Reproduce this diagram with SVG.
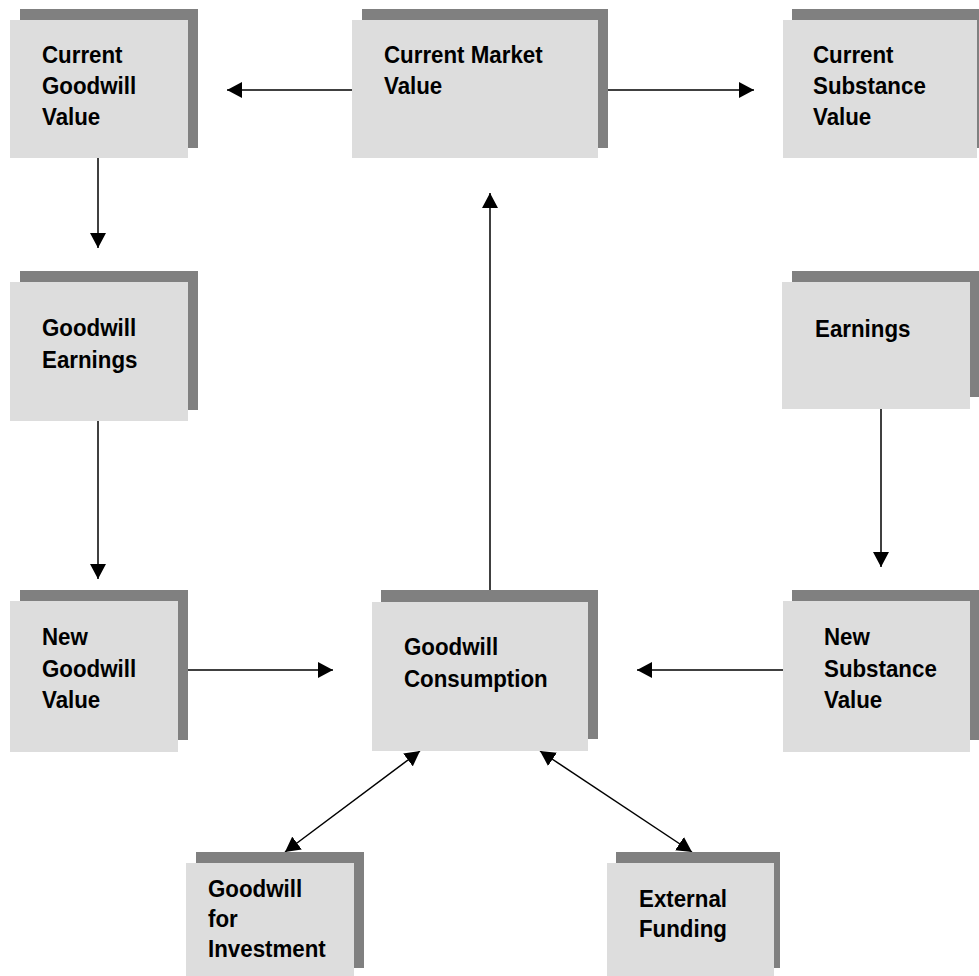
<svg xmlns="http://www.w3.org/2000/svg" width="979" height="976" viewBox="0 0 979 976">
  <style>
    .shadow { fill: #808080; }
    .face { fill: #dddddd; }
    .label { font-family: "Liberation Sans", Arial, sans-serif; font-weight: bold; font-size: 24px; fill: #000000; }
    .edge { stroke: #000000; stroke-width: 1.5; fill: none; }
  </style>
  <defs>
    <marker id="arrow" markerUnits="userSpaceOnUse" markerWidth="16" markerHeight="16" viewBox="0 0 16 16" refX="15" refY="8" orient="auto-start-reverse">
      <path d="M0,0 L15,8 L0,16 Z" fill="#000000"/>
    </marker>
  </defs>

  <rect width="979" height="976" fill="#ffffff"/>

  <!-- connectors -->
  <g id="connectors">
    <line class="edge" x1="352" y1="90" x2="227" y2="90" marker-end="url(#arrow)"/>
    <line class="edge" x1="608" y1="90" x2="754" y2="90" marker-end="url(#arrow)"/>
    <line class="edge" x1="98" y1="158" x2="98" y2="248" marker-end="url(#arrow)"/>
    <line class="edge" x1="98" y1="421" x2="98" y2="579" marker-end="url(#arrow)"/>
    <line class="edge" x1="881" y1="409" x2="881" y2="567" marker-end="url(#arrow)"/>
    <line class="edge" x1="188" y1="670" x2="333" y2="670" marker-end="url(#arrow)"/>
    <line class="edge" x1="783" y1="670" x2="637" y2="670" marker-end="url(#arrow)"/>
    <line class="edge" x1="490" y1="590" x2="490" y2="193" marker-end="url(#arrow)"/>
    <line class="edge" x1="420" y1="751" x2="285" y2="852" marker-start="url(#arrow)" marker-end="url(#arrow)"/>
    <line class="edge" x1="540" y1="751" x2="692" y2="852" marker-start="url(#arrow)" marker-end="url(#arrow)"/>
  </g>

  <!-- nodes -->
  <g id="current-goodwill-value">
    <rect class="shadow" x="20" y="9" width="178" height="139"/>
    <rect class="face" x="10" y="20" width="178" height="138"/>
    <text class="label" transform="translate(42 0) scale(0.93 1)"><tspan x="0" y="63">Current</tspan><tspan x="0" y="94">Goodwill</tspan><tspan x="0" y="125">Value</tspan></text>
  </g>

  <g id="current-market-value">
    <rect class="shadow" x="362" y="9" width="246" height="139"/>
    <rect class="face" x="352" y="20" width="246" height="138"/>
    <text class="label" transform="translate(384 0) scale(0.93 1)"><tspan x="0" y="63">Current Market</tspan><tspan x="0" y="94">Value</tspan></text>
  </g>

  <g id="current-substance-value">
    <rect class="shadow" x="792" y="9" width="195" height="139"/>
    <rect class="face" x="783" y="20" width="194" height="138"/>
    <text class="label" transform="translate(813 0) scale(0.93 1)"><tspan x="0" y="63">Current</tspan><tspan x="0" y="94">Substance</tspan><tspan x="0" y="125">Value</tspan></text>
  </g>

  <g id="goodwill-earnings">
    <rect class="shadow" x="20" y="271" width="178" height="139"/>
    <rect class="face" x="10" y="282" width="178" height="139"/>
    <text class="label" transform="translate(42 0) scale(0.93 1)"><tspan x="0" y="336">Goodwill</tspan><tspan x="0" y="368">Earnings</tspan></text>
  </g>

  <g id="earnings">
    <rect class="shadow" x="792" y="271" width="187" height="126"/>
    <rect class="face" x="782" y="282" width="188" height="127"/>
    <text class="label" transform="translate(815 0) scale(0.93 1)"><tspan x="0" y="337">Earnings</tspan></text>
  </g>

  <g id="new-goodwill-value">
    <rect class="shadow" x="20" y="590" width="168" height="150"/>
    <rect class="face" x="10" y="601" width="168" height="151"/>
    <text class="label" transform="translate(42 0) scale(0.93 1)"><tspan x="0" y="645">New</tspan><tspan x="0" y="677">Goodwill</tspan><tspan x="0" y="708">Value</tspan></text>
  </g>

  <g id="goodwill-consumption">
    <rect class="shadow" x="381" y="590" width="217" height="149"/>
    <rect class="face" x="372" y="602" width="216" height="149"/>
    <text class="label" transform="translate(404 0) scale(0.93 1)"><tspan x="0" y="655">Goodwill</tspan><tspan x="0" y="687">Consumption</tspan></text>
  </g>

  <g id="new-substance-value">
    <rect class="shadow" x="792" y="590" width="187" height="150"/>
    <rect class="face" x="783" y="601" width="187" height="151"/>
    <text class="label" transform="translate(824 0) scale(0.93 1)"><tspan x="0" y="645">New</tspan><tspan x="0" y="677">Substance</tspan><tspan x="0" y="708">Value</tspan></text>
  </g>

  <g id="goodwill-for-investment">
    <rect class="shadow" x="196" y="852" width="168" height="116"/>
    <rect class="face" x="186" y="863" width="168" height="113"/>
    <text class="label" transform="translate(208 0) scale(0.93 1)"><tspan x="0" y="897">Goodwill</tspan><tspan x="0" y="927">for</tspan><tspan x="0" y="957">Investment</tspan></text>
  </g>

  <g id="external-funding">
    <rect class="shadow" x="616" y="852" width="164" height="116"/>
    <rect class="face" x="607" y="863" width="167" height="113"/>
    <text class="label" transform="translate(639 0) scale(0.93 1)"><tspan x="0" y="907">External</tspan><tspan x="0" y="937">Funding</tspan></text>
  </g>
</svg>
